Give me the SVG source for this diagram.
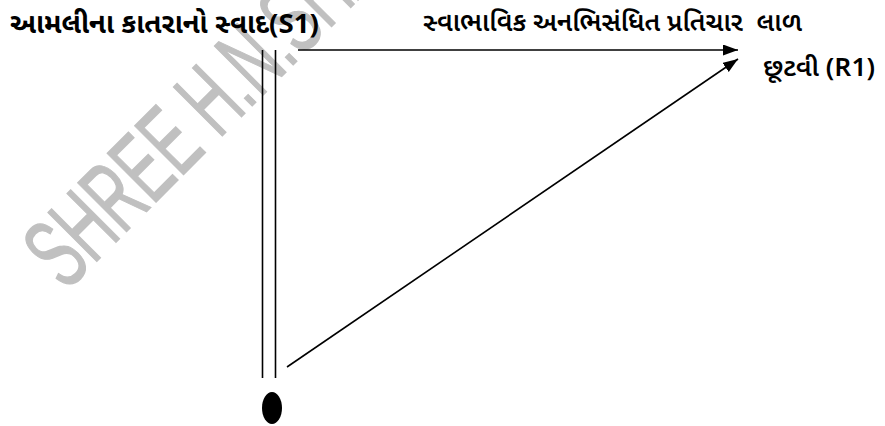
<svg xmlns="http://www.w3.org/2000/svg" width="885" height="426" viewBox="0 0 885 426">
<style>
.t{font-family:"Noto Sans Gujarati","Lohit Gujarati","Noto Sans","Liberation Sans",sans-serif;fill:#000}
.b{font-weight:bold}
.m{font-weight:600}
.ln{stroke:#000;stroke-width:1.6;fill:none}
.wm{font-family:"Liberation Sans",sans-serif;fill:#c0c0c0;stroke:#c0c0c0;stroke-width:1.5}
</style>
<defs>
<marker id="ah" markerWidth="16" markerHeight="12" refX="15" refY="5.5" orient="auto" markerUnits="userSpaceOnUse">
<path d="M0,0 L15,5.5 L0,11 Z" fill="#000"/>
</marker>
</defs>
<rect width="885" height="426" fill="#fff"/>
<g id="watermark">
<text class="wm" x="0" y="0" font-size="100" transform="translate(66,292) rotate(-45) scale(0.58,1)">SHREE H.N.SHAH</text>
</g>
<g id="stimulus">
<text class="t b" x="10" y="33" font-size="27.5" textLength="309" lengthAdjust="spacingAndGlyphs">આમલીના કાતરાનો સ્વાદ(S1)</text>
</g>
<g id="response-label">
<text class="t m" x="423" y="31" font-size="25.5" xml:space="preserve" textLength="379" lengthAdjust="spacingAndGlyphs">સ્વાભાવિક અનભિસંધિત પ્રતિચાર  લાળ</text>
</g>
<g id="response">
<text class="t m" x="763" y="76" font-size="25" textLength="112" lengthAdjust="spacingAndGlyphs">છૂટવી (R1)</text>
</g>
<g id="organism">
<ellipse cx="272" cy="408" rx="10" ry="16" fill="#000"/>
</g>
<g id="connectors">
<line class="ln" x1="262.5" y1="50" x2="262.5" y2="378"/>
<line class="ln" x1="275.5" y1="50" x2="275.5" y2="378"/>
<line class="ln" x1="298" y1="50" x2="738" y2="50" marker-end="url(#ah)"/>
<line class="ln" x1="287" y1="367" x2="738" y2="59" marker-end="url(#ah)"/>
</g>
</svg>
